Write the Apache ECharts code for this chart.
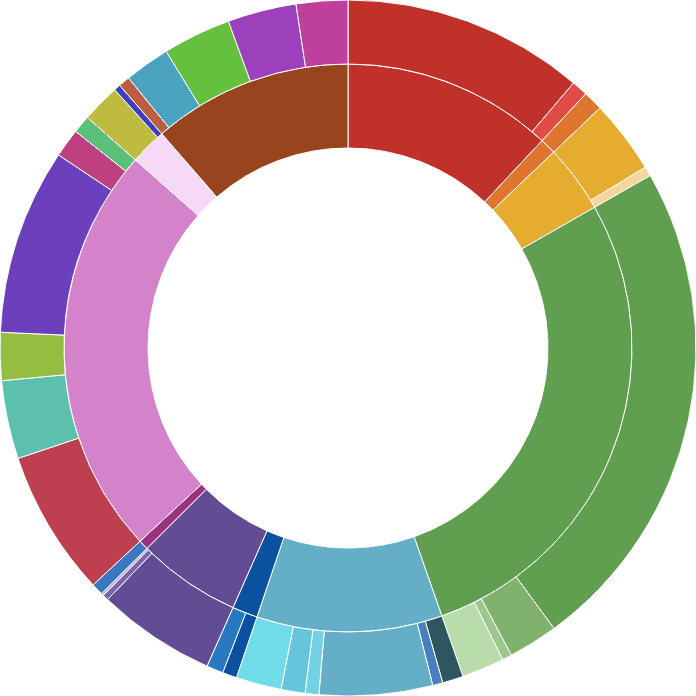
<!DOCTYPE html>
<html>
<head>
<meta charset="utf-8">
<script src="https://cdn.jsdelivr.net/npm/echarts@6/dist/echarts.min.js"></script>
<style>
  html,body{margin:0;padding:0;background:#fff;}
  #chart{width:696px;height:696px;}
</style>
</head>
<body>
<div id="chart"></div>
<script>
// inner ring (groups), clockwise from 12 o'clock
const groupColors = ["#c0312a","#e07530","#e5ac30","#609e50","#64aec7","#0a52a0","#624c94","#993380","#d482c9","#f5d9f6","#98441e"];

// outer ring: each group's parts, same order
const partValues = [
  [40.4, 2.7],
  [3.3],
  [12.3, 1.6],
  [83.4, 8.3, 1.6, 7.1],
  [3.5, 1.7, 18.9, 2.3, 4.0, 7.6],
  [2.4, 2.8],
  [19.8, 1.0, 0.4],
  [2.0],
  [24.4, 13.1, 8.0, 31.1, 4.8, 3.0],
  [6.4, 1.1],
  [1.9, 7.6, 11.4, 11.5, 8.6]
];
const partColors = [
  ["#c0312a","#e04c44"],
  ["#e07530"],
  ["#e5ac30","#f5d59a"],
  ["#609e50","#80b26e","#9cc88c","#b8dcaa"],
  ["#2d5660","#4a7fbf","#64aec7","#72d2e4","#66c4dc","#70dcea"],
  ["#0a52a0","#2878c4"],
  ["#624c94","#7a64b0","#b8a8d8"],
  ["#3c78c0"],
  ["#be4050","#5cc0ad","#95bd42","#6c40bc","#bf4080","#5cc07a"],
  ["#bfba40","#3c40bc"],
  ["#bc5c40","#4aa4c0","#66c040","#9c40bc","#bf409c"]
];

const data = groupColors.map((c, i) => ({
  itemStyle:{color:c},
  children: partValues[i].map((v, j) => ({value:v, itemStyle:{color:partColors[i][j]}}))
}));

const chart = echarts.init(document.getElementById("chart"));
chart.setOption({
  animation:false,
  series:[{
    type:"sunburst",
    center:["50%","50%"],
    sort:null,
    nodeClick:false,
    data,
    label:{show:false},
    itemStyle:{borderColor:"#fff",borderWidth:1},
    levels:[
      {},
      {r0:200,r:284,label:{show:false}},
      {r0:284,r:348,label:{show:false}}
    ]
  }]
});
</script>
</body>
</html>
